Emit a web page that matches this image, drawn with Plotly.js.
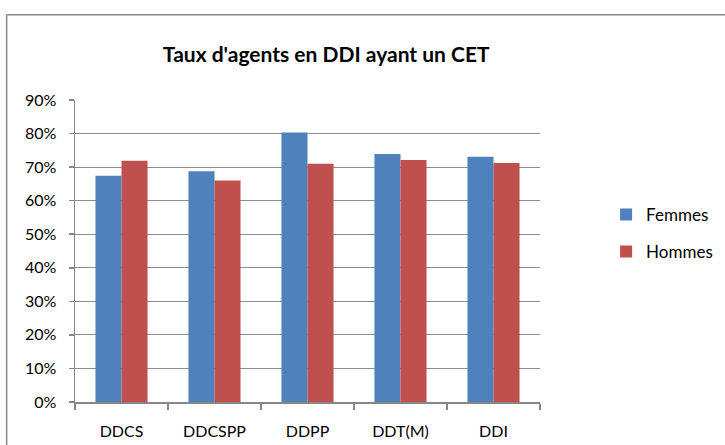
<!DOCTYPE html>
<html><head><meta charset="utf-8">
<script src="https://cdn.plot.ly/plotly-3.0.1.min.js"></script>
<style>html,body{margin:0;padding:0;background:#fff;}#chart{width:725px;height:445px;}</style>
</head><body><div id="chart"></div>
<script>
const categories = ["DDCS", "DDCSPP", "DDPP", "DDT(M)", "DDI"];
const femmes = [0.674, 0.688, 0.803, 0.739, 0.731];
const hommes = [0.719, 0.660, 0.710, 0.721, 0.712];
const yTickVals = [0, 0.1, 0.2, 0.3, 0.4, 0.5, 0.6, 0.7, 0.8, 0.9];
const yTickText = ["0%", "10%", "20%", "30%", "40%", "50%", "60%", "70%", "80%", "90%"];

const FONT = "Lato, 'Open Sans', sans-serif";
const traces = [
  {type: "bar", name: "Femmes", x: categories, y: femmes, marker: {color: "#4F81BD"}, legend: "legend"},
  {type: "bar", name: "Hommes", x: categories, y: hommes, marker: {color: "#C0504D"}, legend: "legend2"}
];
const layout = {
  width: 725, height: 445,
  margin: {l: 75, r: 185, t: 100, b: 43},
  paper_bgcolor: "#fff", plot_bgcolor: "#fff",
  font: {family: FONT, size: 16, color: "#000"},
  title: {text: "<b>Taux d'agents en DDI ayant un CET</b>", font: {family: FONT, size: 21, color: "#000"},
          x: 0.45, xanchor: "center", y: 0.877, yanchor: "middle"},
  barmode: "group", bargap: 0.44, bargroupgap: 0,
  showlegend: true,
  legend: {xref: "container", yref: "container", x: 0.836, xanchor: "left", y: 0.517, yanchor: "middle",
           font: {family: FONT, size: 17, color: "#000"}, bgcolor: "rgba(0,0,0,0)"},
  legend2: {xref: "container", yref: "container", x: 0.836, xanchor: "left", y: 0.434, yanchor: "middle",
            font: {family: FONT, size: 17, color: "#000"}, bgcolor: "rgba(0,0,0,0)"},
  xaxis: {type: "category", showline: true, linecolor: "#868686", linewidth: 1.5,
          ticks: "outside", tickson: "boundaries", ticklen: 6, tickcolor: "#868686", tickwidth: 1.5,
          ticklabelstandoff: 14,
          tickfont: {family: FONT, size: 16, color: "#000"}, showgrid: false, zeroline: false},
  yaxis: {range: [0, 0.9], tickvals: yTickVals, ticktext: yTickText, showline: true, linecolor: "#868686", linewidth: 1.5,
          ticks: "outside", ticklen: 5, tickcolor: "#868686", tickwidth: 1.5, ticklabelstandoff: 9,
          showgrid: true, gridcolor: "#8c8c8c", gridwidth: 1.2, zeroline: false,
          tickfont: {family: FONT, size: 16, color: "#000"}},
  shapes: [
    {type: "line", xref: "paper", yref: "paper", x0: -0.147, x1: 1.6, y0: 1.282, y1: 1.282, line: {color: "#888", width: 1.5}},
    {type: "line", xref: "paper", yref: "paper", x0: -0.147, x1: -0.147, y0: 1.282, y1: -0.2, line: {color: "#888", width: 1.5}}
  ]
};
Plotly.newPlot("chart", traces, layout, {displayModeBar: false, staticPlot: true});
</script></body></html>
